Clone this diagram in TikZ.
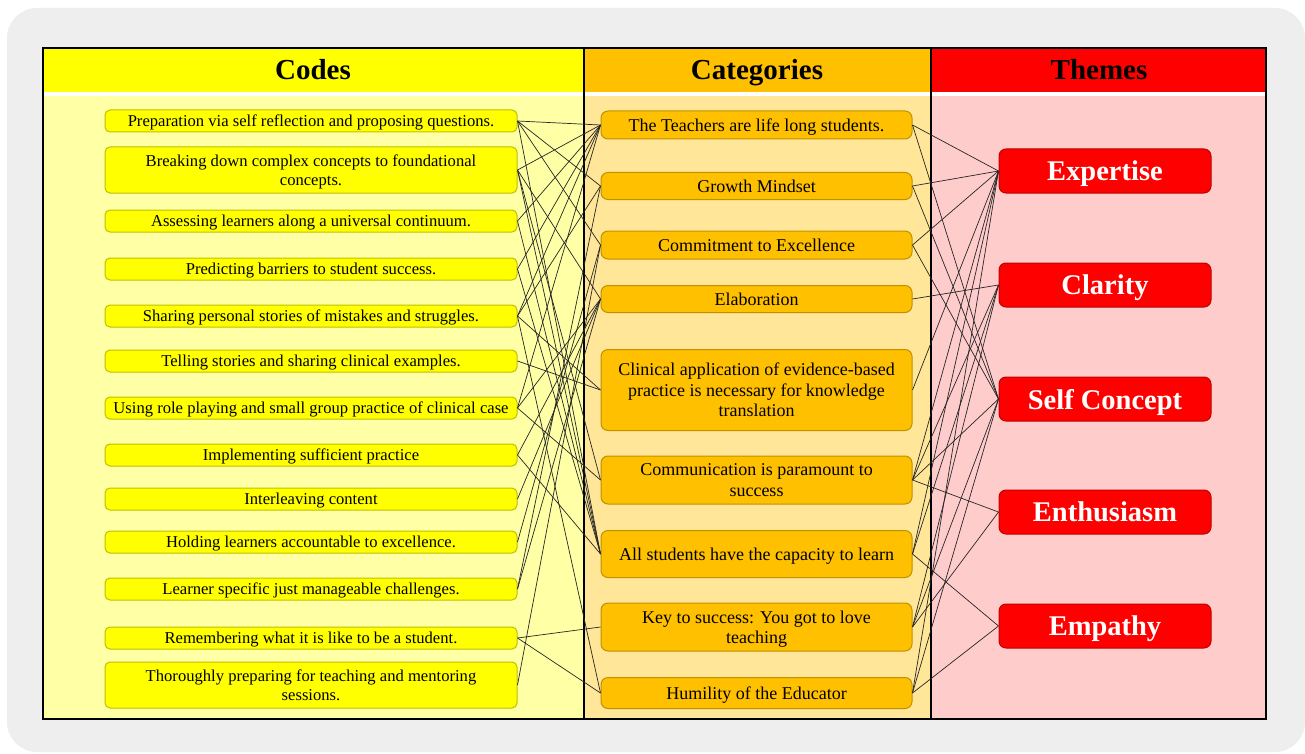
\documentclass[tikz,border=0pt]{standalone}
\usepackage{fontspec}
\setmainfont{Liberation Serif}
\begin{document}
\begin{tikzpicture}[x=1pt,y=-1pt,
  codebox/.style={draw=codeedge,fill=codefill,rounded corners=5pt,line width=1pt,minimum width=412pt,align=center,font=\fontsize{16.6}{19}\selectfont,inner sep=0pt,text depth=0pt},
  catbox/.style={draw=catedge,fill=catfill,rounded corners=7pt,line width=1pt,minimum width=311pt,align=center,font=\fontsize{18}{20.5}\selectfont,inner sep=0pt,text depth=0pt},
  themebox/.style={draw=themeedge,fill=themefill,rounded corners=7pt,line width=1pt,minimum width=212pt,minimum height=44pt,align=center,font=\fontsize{28.5}{30}\selectfont\bfseries,text=white,inner sep=0pt,text depth=0pt},
  head/.style={font=\fontsize{29}{30}\selectfont\bfseries,anchor=base},
  link/.style={draw=black!85,line width=0.7pt}
]
\definecolor{codefill}{HTML}{FFFF00}
\definecolor{codeedge}{HTML}{BFBF00}
\definecolor{catfill}{HTML}{FFC000}
\definecolor{catedge}{HTML}{BF9000}
\definecolor{themefill}{HTML}{FF0000}
\definecolor{themeedge}{HTML}{C00000}
\definecolor{codebody}{HTML}{FFFFA6}
\definecolor{catbody}{HTML}{FFE699}
\definecolor{themebody}{HTML}{FFCCCC}
\definecolor{outerbg}{HTML}{EEEEEE}
\useasboundingbox (0,0) rectangle (1305,754);
\fill[white] (0,0) rectangle (1305,754);
\fill[outerbg,rounded corners=30pt] (7,8) rectangle (1305,752);
% column bodies
\fill[codebody] (43,96) rectangle (584,719);
\fill[catbody] (584,96) rectangle (931,719);
\fill[themebody] (931,96) rectangle (1266,719);
% headers
\fill[codefill] (43,48) rectangle (584,92);
\fill[catfill] (584,48) rectangle (931,92);
\fill[themefill] (931,48) rectangle (1266,92);
\fill[white] (43,92) rectangle (1266,96);
\draw[line width=1.5pt] (43,48) rectangle (1266,719);
\draw[line width=1.5pt] (584,48) -- (584,719);
\draw[line width=1.5pt] (931,48) -- (931,719);
\node[head] (hcodes) at (313,80) {Codes};
\node[head] (hcats) at (757,80) {Categories};
\node[head] (hthemes) at (1099,80) {Themes};
% codes
\node[codebox,minimum height=22pt] (c1) at (311,121) {Preparation via self reflection and proposing questions.};
\node[codebox,minimum height=46pt] (c2) at (311,170) {Breaking down complex concepts to foundational\\concepts.};
\node[codebox,minimum height=22pt] (c3) at (311,221) {Assessing learners along a universal continuum.};
\node[codebox,minimum height=22pt] (c4) at (311,269) {Predicting barriers to student success.};
\node[codebox,minimum height=22pt] (c5) at (311,316) {Sharing personal stories of mistakes and struggles.};
\node[codebox,minimum height=22pt] (c6) at (311,361) {Telling stories and sharing clinical examples.};
\node[codebox,minimum height=22pt] (c7) at (311,408) {Using role playing and small group practice of clinical case};
\node[codebox,minimum height=22pt] (c8) at (311,455) {Implementing sufficient practice};
\node[codebox,minimum height=22pt] (c9) at (311,499) {Interleaving content};
\node[codebox,minimum height=22pt] (c10) at (311,542) {Holding learners accountable to excellence.};
\node[codebox,minimum height=22pt] (c11) at (311,589) {Learner specific just manageable challenges.};
\node[codebox,minimum height=22pt] (c12) at (311,638) {Remembering what it is like to be a student.};
\node[codebox,minimum height=46pt] (c13) at (311,685) {Thoroughly preparing for teaching and mentoring\\sessions.};
% categories
\node[catbox,minimum height=28pt] (k1) at (756.5,125) {The Teachers are life long students.};
\node[catbox,minimum height=27pt] (k2) at (756.5,186) {Growth Mindset};
\node[catbox,minimum height=28pt] (k3) at (756.5,245) {Commitment to Excellence};
\node[catbox,minimum height=27pt] (k4) at (756.5,299) {Elaboration};
\node[catbox,minimum height=81pt] (k5) at (756.5,390) {Clinical application of evidence-based\\practice is necessary for knowledge\\translation};
\node[catbox,minimum height=48pt] (k6) at (756.5,480) {Communication is paramount to\\success};
\node[catbox,minimum height=47pt] (k7) at (756.5,554) {All students have the capacity to learn};
\node[catbox,minimum height=48pt] (k8) at (756.5,627) {Key to success: You got to love\\teaching};
\node[catbox,minimum height=31pt] (k9) at (756.5,693) {Humility of the Educator};
% themes
\node[themebox] (t1) at (1105,171) {Expertise};
\node[themebox] (t2) at (1105,285) {Clarity};
\node[themebox] (t3) at (1105,399) {Self Concept};
\node[themebox] (t4) at (1105,512) {Enthusiasm};
\node[themebox] (t5) at (1105,626) {Empathy};
% code -> category links
\foreach \a/\b in {c1/k1,c1/k2,c1/k3,c1/k7,c2/k1,c2/k4,c2/k6,c2/k7,c3/k1,c3/k7,c4/k1,c4/k7,c5/k1,c5/k2,c5/k5,c5/k9,c6/k5,c7/k1,c7/k4,c7/k6,c8/k4,c8/k7,c9/k4,c10/k3,c11/k2,c11/k4,c12/k8,c12/k9,c13/k3}
  \draw[link] (\a.east) -- (\b.west);
% category -> theme links
\foreach \a/\b in {k1/t1,k1/t3,k2/t1,k2/t3,k3/t1,k3/t3,k4/t2,k5/t1,k6/t1,k6/t2,k6/t3,k6/t4,k7/t1,k7/t2,k7/t5,k8/t2,k8/t3,k8/t4,k9/t1,k9/t3,k9/t5}
  \draw[link] (\a.east) -- (\b.west);
\end{tikzpicture}
\end{document}
